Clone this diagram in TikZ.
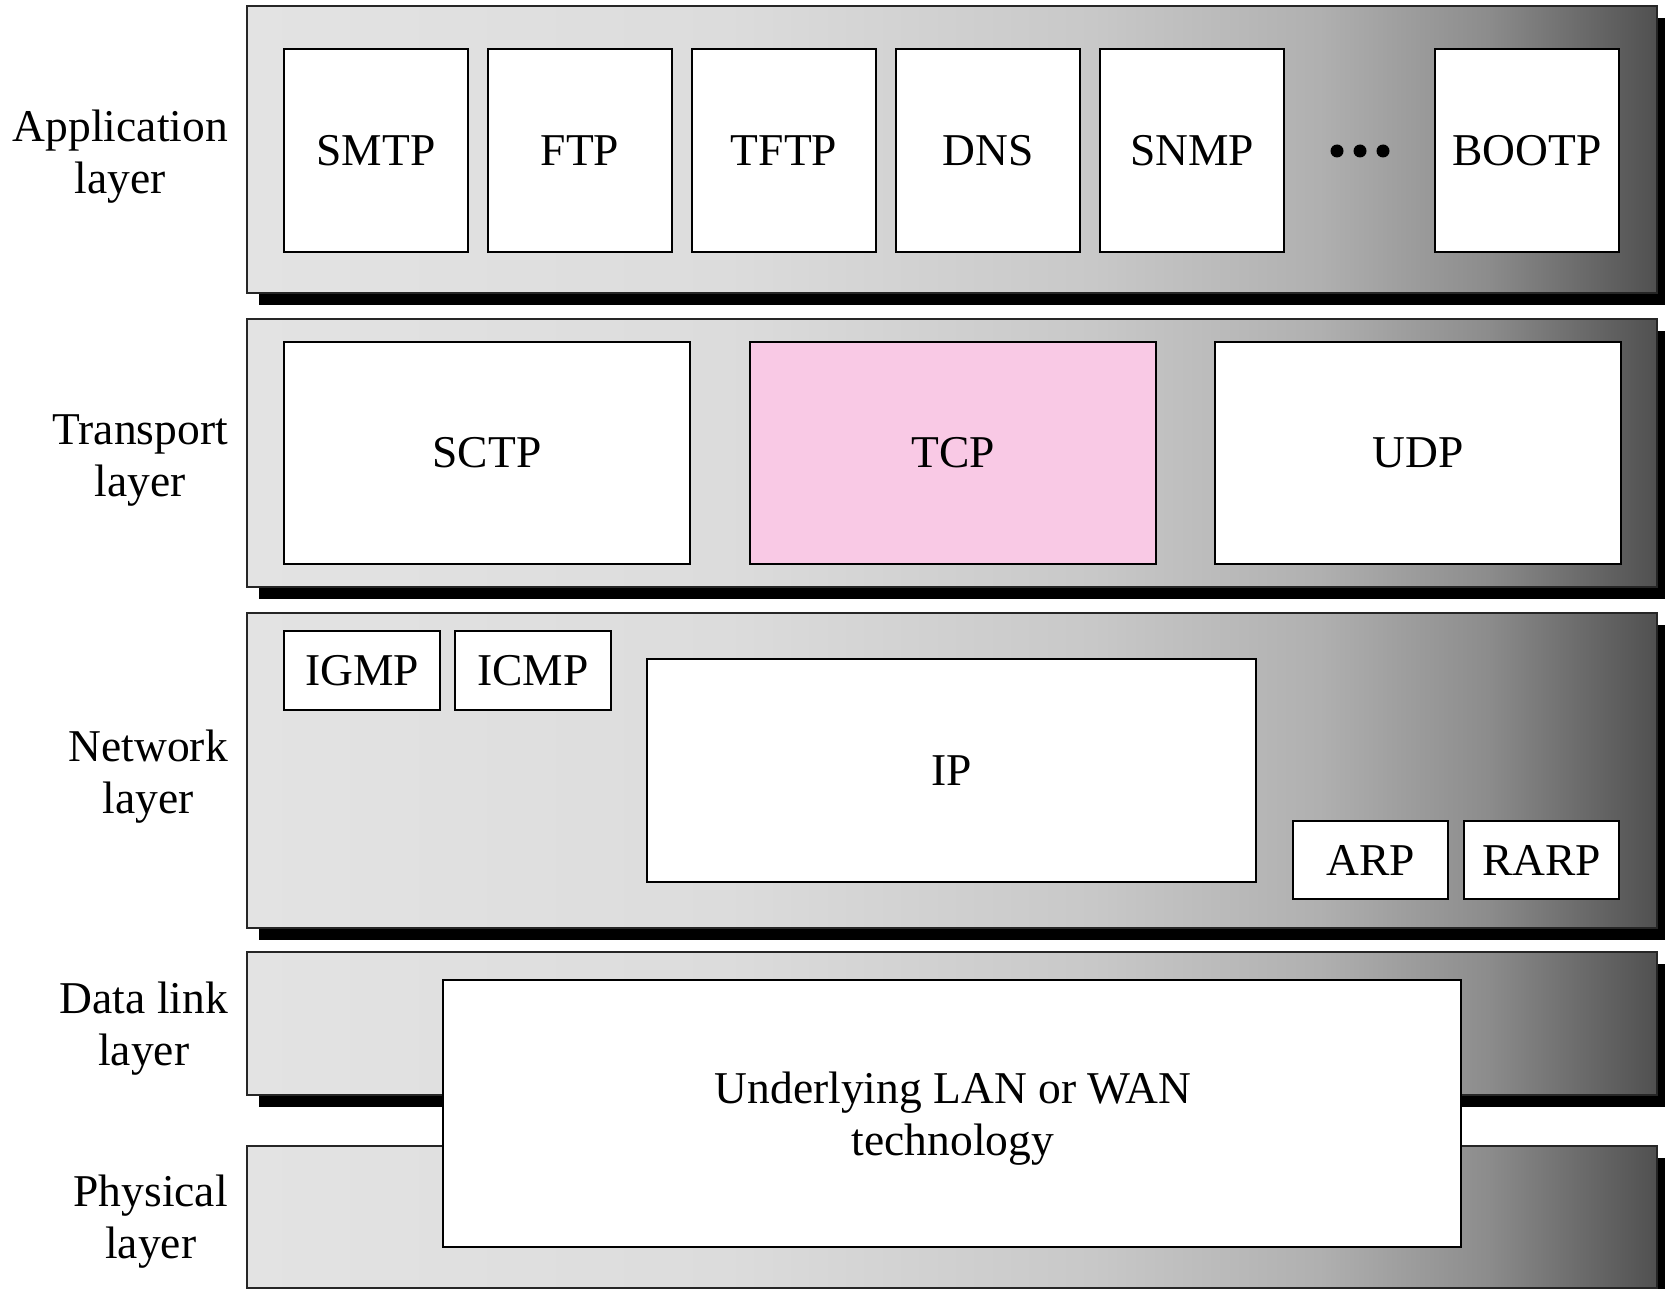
\documentclass[tikz,border=0pt]{standalone}
\usepackage{fontspec}
\setmainfont{Liberation Serif}

% Grey ramp of the layer bars: flat light grey on the left, darkening to the right
\definecolor{barA}{HTML}{E3E3E3}
\definecolor{barB}{HTML}{DCDCDC}
\definecolor{barC}{HTML}{C8C8C8}
\definecolor{barD}{HTML}{B0B0B0}
\definecolor{barE}{HTML}{8C8C8C}
\definecolor{barF}{HTML}{505050}
\definecolor{tcppink}{HTML}{F9C9E5}
\pgfdeclarehorizontalshading{layershade}{100bp}{%
  color(0bp)=(barA); color(25bp)=(barA); color(42bp)=(barB);
  color(55bp)=(barC); color(63bp)=(barD); color(69bp)=(barE);
  color(75bp)=(barF); color(100bp)=(barF)}

\newcommand\layerbar[2]{%
  \fill[black] (259,{#1+12}) rectangle (1669,{#2+12});
  \draw[layerframe] (247,#1) rectangle (1657,#2);}

\begin{document}
\begin{tikzpicture}[x=1pt,y=-1pt,
  bigfont/.style={font=\fontsize{45.5}{52}\selectfont},
  layerframe/.style={draw=black!85, line width=2pt, shading=layershade},
  proto/.style={draw=black, line width=2.6pt, fill=white, anchor=north west,
    inner sep=0pt, outer sep=0pt, bigfont},
  layerlabel/.style={anchor=east, align=center, inner sep=0pt, bigfont},
  boxtext/.style={align=center, inner sep=0pt, bigfont}]
\useasboundingbox (0,0) rectangle (1665,1289);
\clip (0,0) rectangle (1665,1289);

% layer bars with their drop shadows
\layerbar{6}{293}
\layerbar{319}{587}
\layerbar{613}{928}
\layerbar{952}{1095}
\layerbar{1146}{1288}

% layer names
\node[layerlabel] (lapp)  at (228,157)  {Application\\layer};
\node[layerlabel] (ltrn)  at (228,461)  {Transport\\layer};
\node[layerlabel] (lnet)  at (228,777)  {Network\\layer};
\node[layerlabel] (llink) at (228,1029) {Data link\\layer};
\node[layerlabel] (lphy)  at (228,1222) {Physical\\layer};

% application protocols
\foreach \name/\x/\txt in {smtp/284/SMTP, ftp/488/FTP, tftp/692/TFTP,
    dns/896/DNS, snmp/1100/SNMP, bootp/1435/BOOTP}
  \node[proto, minimum width=184pt, minimum height=203pt,
        text depth=-4pt] (\name) at (\x,49) {\txt};
\foreach \x in {1337,1360,1383}
  \fill[black] (\x,151) circle (6.5pt);

% transport protocols
\node[proto, minimum width=406pt, minimum height=222pt] (sctp) at (284,342) {SCTP};
\node[proto, minimum width=406pt, minimum height=222pt, fill=tcppink] (tcp) at (750,342) {TCP};
\node[proto, minimum width=406pt, minimum height=222pt] (udp) at (1215,342) {UDP};

% network protocols
\node[proto, minimum width=156pt, minimum height=79pt] (igmp) at (284,631) {IGMP};
\node[proto, minimum width=156pt, minimum height=79pt] (icmp) at (455,631) {ICMP};
\node[proto, minimum width=609pt, minimum height=223pt] (ip) at (647,659) {IP};
\node[proto, minimum width=155pt, minimum height=78pt] (arp) at (1293,821) {ARP};
\node[proto, minimum width=155pt, minimum height=78pt] (rarp) at (1464,821) {RARP};

% data link and physical layers share one box
\node[proto, minimum width=1018pt, minimum height=267pt] (lanwan) at (443,980) {};
\node[boxtext] (lanwantext) at (953,1119) {Underlying LAN or WAN\\technology};
\end{tikzpicture}
\end{document}
